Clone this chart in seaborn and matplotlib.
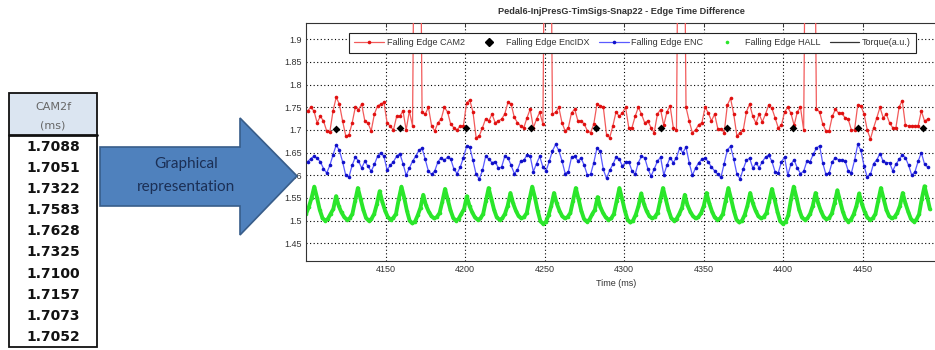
import numpy as np
import pandas as pd
import matplotlib
matplotlib.use("Agg")
import matplotlib.pyplot as plt
from matplotlib.lines import Line2D
from matplotlib.patches import Polygon, Rectangle
import seaborn as sns

# ---------------- data ----------------
table_header = ["CAM2f", "(ms)"]
table_values = ["1.7088", "1.7051", "1.7322", "1.7583", "1.7628",
                "1.7325", "1.7100", "1.7157", "1.7073", "1.7052"]
arrow_text = ["Graphical", "representation"]

title = "Pedal6-InjPresG-TimSigs-Snap22 - Edge Time Difference"
xlabel = "Time (ms)"
legend_labels = ["Falling Edge CAM2", "Falling Edge EncIDX", "Falling Edge ENC",
                 "Falling Edge HALL", "Torque(a.u.)"]
x_ticks = [4150, 4200, 4250, 4300, 4350, 4400, 4450]
y_ticks = [1.45, 1.5, 1.55, 1.6, 1.65, 1.7, 1.75, 1.8, 1.85, 1.9]
y_ticklabels = ["1.45", "1.5", "1.55", "1.6", "1.65", "1.7", "1.75", "1.8", "1.85", "1.9"]

# sample time grid of CAM2 / ENC (ms)
edge_t0, edge_dt = 4101.0, 2.0
cam2 = [
    1.742, 1.750, 1.742, 1.716, 1.730, 1.720, 1.698, 1.696, 1.742, 1.772,
    1.757, 1.720, 1.687, 1.689, 1.715, 1.750, 1.745, 1.757, 1.720, 1.715,
    1.698, 1.735, 1.753, 1.757, 1.761, 1.716, 1.708, 1.700, 1.730, 1.730,
    1.742, 1.700, 1.742, 1.709, 2.600, 2.600, 1.739, 1.735, 1.750, 1.709,
    1.698, 1.716, 1.724, 1.750, 1.740, 1.713, 1.705, 1.700, 1.709, 1.709,
    1.760, 1.766, 1.740, 1.683, 1.687, 1.705, 1.725, 1.720, 1.735, 1.716,
    1.720, 1.724, 1.735, 1.761, 1.757, 1.728, 1.716, 1.709, 1.705, 1.727,
    1.746, 1.705, 1.724, 1.739, 1.713, 2.600, 2.600, 1.735, 1.739, 1.750,
    1.716, 1.698, 1.705, 1.738, 1.746, 1.720, 1.720, 1.713, 1.698, 1.694,
    1.713, 1.757, 1.753, 1.750, 1.690, 1.683, 1.709, 1.740, 1.730, 1.738,
    1.750, 1.705, 1.705, 1.730, 1.750, 1.735, 1.716, 1.720, 1.705, 1.694,
    1.735, 1.745, 1.710, 1.740, 1.753, 1.705, 1.700, 2.600, 2.600, 1.750,
    1.720, 1.694, 1.700, 1.712, 1.716, 1.750, 1.738, 1.720, 1.735, 1.703,
    1.703, 1.694, 1.755, 1.770, 1.735, 1.687, 1.694, 1.700, 1.740, 1.757,
    1.730, 1.715, 1.735, 1.718, 1.735, 1.755, 1.748, 1.727, 1.705, 1.710,
    1.740, 1.750, 1.737, 1.710, 1.740, 1.750, 1.700, 2.600, 2.600, 2.600,
    1.746, 1.740, 1.713, 1.698, 1.698, 1.730, 1.746, 1.737, 1.737, 1.727,
    1.724, 1.700, 1.700, 1.755, 1.753, 1.735, 1.700, 1.680, 1.705, 1.727,
    1.750, 1.727, 1.735, 1.716, 1.705, 1.705, 1.750, 1.765, 1.710, 1.709,
    1.709, 1.709, 1.709, 1.742, 1.720, 1.724,
]
enc = [
    1.630, 1.637, 1.642, 1.638, 1.630, 1.615, 1.605, 1.622, 1.645, 1.667,
    1.655, 1.630, 1.600, 1.596, 1.622, 1.640, 1.632, 1.616, 1.631, 1.620,
    1.609, 1.624, 1.642, 1.650, 1.642, 1.612, 1.622, 1.630, 1.642, 1.648,
    1.626, 1.600, 1.616, 1.631, 1.642, 1.655, 1.660, 1.635, 1.609, 1.602,
    1.610, 1.630, 1.639, 1.633, 1.640, 1.636, 1.614, 1.604, 1.618, 1.639,
    1.664, 1.662, 1.633, 1.602, 1.592, 1.611, 1.642, 1.636, 1.628, 1.630,
    1.616, 1.618, 1.642, 1.639, 1.622, 1.604, 1.612, 1.631, 1.633, 1.645,
    1.642, 1.608, 1.626, 1.642, 1.618, 1.610, 1.631, 1.654, 1.668, 1.655,
    1.632, 1.604, 1.608, 1.640, 1.642, 1.632, 1.638, 1.622, 1.600, 1.602,
    1.628, 1.660, 1.653, 1.613, 1.593, 1.611, 1.624, 1.640, 1.636, 1.620,
    1.630, 1.630, 1.610, 1.602, 1.628, 1.642, 1.639, 1.615, 1.598, 1.614,
    1.631, 1.640, 1.601, 1.622, 1.639, 1.628, 1.639, 1.660, 1.650, 1.662,
    1.628, 1.600, 1.616, 1.628, 1.635, 1.638, 1.630, 1.618, 1.610, 1.602,
    1.596, 1.626, 1.656, 1.664, 1.636, 1.603, 1.592, 1.614, 1.633, 1.638,
    1.616, 1.627, 1.617, 1.630, 1.640, 1.645, 1.631, 1.608, 1.605, 1.630,
    1.640, 1.600, 1.625, 1.634, 1.616, 1.604, 1.609, 1.631, 1.630, 1.646,
    1.660, 1.665, 1.627, 1.602, 1.605, 1.630, 1.639, 1.634, 1.633, 1.632,
    1.610, 1.605, 1.633, 1.668, 1.655, 1.620, 1.596, 1.602, 1.626, 1.634,
    1.648, 1.631, 1.628, 1.628, 1.610, 1.624, 1.635, 1.645, 1.639, 1.622,
    1.600, 1.608, 1.631, 1.650, 1.625, 1.618,
]
# HALL sample time grid (ms)
hall_t0, hall_dt = 4100.06, 1.7134
hall = [
    1.515, 1.530, 1.550,
    1.575, 1.551, 1.524, 1.506, 1.500, 1.504, 1.515, 1.526,
    1.554, 1.532, 1.518, 1.508, 1.502, 1.505, 1.515, 1.544,
    1.572, 1.548, 1.524, 1.506, 1.500, 1.504, 1.515, 1.537,
    1.565, 1.541, 1.522, 1.508, 1.502, 1.506, 1.515, 1.547,
    1.575, 1.551, 1.522, 1.500, 1.494, 1.498, 1.512, 1.529,
    1.557, 1.534, 1.520, 1.510, 1.505, 1.508, 1.517, 1.542,
    1.570, 1.546, 1.523, 1.506, 1.500, 1.504, 1.515, 1.526,
    1.554, 1.532, 1.518, 1.507, 1.502, 1.505, 1.515, 1.544,
    1.572, 1.548, 1.524, 1.507, 1.502, 1.505, 1.515, 1.533,
    1.561, 1.538, 1.522, 1.510, 1.505, 1.508, 1.517, 1.547,
    1.575, 1.551, 1.522, 1.499, 1.493, 1.497, 1.512, 1.533,
    1.561, 1.538, 1.522, 1.510, 1.505, 1.508, 1.517, 1.544,
    1.572, 1.548, 1.522, 1.504, 1.498, 1.502, 1.514, 1.524,
    1.552, 1.530, 1.517, 1.507, 1.502, 1.505, 1.515, 1.544,
    1.572, 1.548, 1.522, 1.502, 1.496, 1.500, 1.513, 1.532,
    1.560, 1.537, 1.521, 1.510, 1.505, 1.508, 1.517, 1.544,
    1.572, 1.548, 1.524, 1.506, 1.500, 1.504, 1.515, 1.529,
    1.557, 1.534, 1.520, 1.510, 1.505, 1.508, 1.517, 1.533,
    1.561, 1.538, 1.520, 1.507, 1.502, 1.505, 1.515, 1.544,
    1.572, 1.548, 1.522, 1.502, 1.496, 1.500, 1.513, 1.533,
    1.561, 1.538, 1.522, 1.510, 1.505, 1.508, 1.517, 1.542,
    1.570, 1.546, 1.520, 1.499, 1.493, 1.497, 1.512, 1.547,
    1.575, 1.551, 1.524, 1.507, 1.502, 1.505, 1.515, 1.533,
    1.561, 1.538, 1.521, 1.508, 1.503, 1.506, 1.516, 1.539,
    1.567, 1.543, 1.520, 1.504, 1.498, 1.502, 1.514, 1.532,
    1.560, 1.537, 1.520, 1.507, 1.502, 1.505, 1.515, 1.544,
    1.572, 1.548, 1.524, 1.510, 1.505, 1.508, 1.517, 1.533,
    1.561, 1.538, 1.520, 1.504, 1.498, 1.502, 1.514, 1.548,
    1.576, 1.552, 1.525,
]
encidx_t = [4118.6, 4159.4, 4200.6, 4241.8, 4282.7, 4323.4, 4364.6, 4406.0, 4447.4, 4487.8]
encidx_v = [1.703, 1.705, 1.705, 1.705, 1.705, 1.705, 1.705, 1.705, 1.705, 1.705]

# ---------------- tables ----------------
edge_time = edge_t0 + edge_dt * np.arange(len(cam2))
df_edge = pd.DataFrame({"t": edge_time, "cam2": cam2, "enc": enc})
df_hall = pd.DataFrame({"t": hall_t0 + hall_dt * np.arange(len(hall)), "hall": hall})
df_idx = pd.DataFrame({"t": encidx_t, "v": encidx_v})

sns.set_theme(style="white")
plt.rcParams["font.family"] = ["Liberation Sans", "DejaVu Sans"]

fig = plt.figure(figsize=(9.35, 3.5), dpi=100)
fig.patch.set_facecolor("white")
W, H = 935.0, 350.0
ax = fig.add_axes([306 / W, (H - 261) / H, 636 / W, 238 / H])

red_line, red_mark = "#f25a5a", "#e01010"
blue_line, blue_mark = "#5a5aff", "#1010c8"
green = "#2ae62a"

sns.lineplot(data=df_hall, x="t", y="hall", ax=ax, color=green, lw=2.8,
             marker="o", markersize=2.6, markeredgewidth=0, sort=False, zorder=2)
sns.lineplot(data=df_edge, x="t", y="enc", ax=ax, color=blue_line, lw=0.9,
             marker="o", markersize=2.6, markerfacecolor=blue_mark,
             markeredgewidth=0, sort=False, zorder=3)
sns.lineplot(data=df_edge, x="t", y="cam2", ax=ax, color=red_line, lw=0.9,
             marker="o", markersize=2.6, markerfacecolor=red_mark,
             markeredgewidth=0, sort=False, zorder=3)
sns.scatterplot(data=df_idx, x="t", y="v", ax=ax, color="black", marker="D",
                s=16, linewidth=0, zorder=4)

ax.set_xlim(4100, 4500)
ax.set_ylim(1.411, 1.936)
ax.set_xticks(x_ticks)
ax.set_xticklabels([str(v) for v in x_ticks])
ax.set_yticks(y_ticks)
ax.set_yticklabels(y_ticklabels)
ax.set_xlabel("")
ax.set_ylabel("")
ax.tick_params(direction="in", length=3, width=0.7, top=True, right=True,
               labelsize=6.5, labelcolor="#333333", pad=3, colors="#333333")
ax.grid(True, color="black", linestyle=(0, (1, 2.2)), linewidth=0.8)
for s in ax.spines.values():
    s.set_color("#333333")
    s.set_linewidth(0.8)

handles = [
    Line2D([], [], color=red_line, lw=0.9, marker="o", markersize=2.6,
           markerfacecolor=red_mark, markeredgewidth=0),
    Line2D([], [], color="black", lw=0, marker="D", markersize=4),
    Line2D([], [], color=blue_line, lw=0.9, marker="o", markersize=2.6,
           markerfacecolor=blue_mark, markeredgewidth=0),
    Line2D([], [], color=green, lw=0, marker="o", markersize=2.6, markeredgewidth=0),
    Line2D([], [], color="#333333", lw=0.9),
]
leg = ax.legend(handles, legend_labels, ncol=5, loc="upper left",
                bbox_to_anchor=(349 / W, (H - 33) / H), bbox_transform=fig.transFigure,
                fontsize=6.5, frameon=True, fancybox=False, framealpha=1,
                edgecolor="#222222", handlelength=3.3, handletextpad=0.3,
                columnspacing=1.0, borderpad=0.6, borderaxespad=0)
leg.get_frame().set_linewidth(0.8)
for txt in leg.get_texts():
    txt.set_color("#333333")

fig.text(621 / W, 1 - 12 / H, title, ha="center", va="center",
         fontsize=6.6, fontweight="bold", color="#333333")
fig.text(616 / W, 1 - 283 / H, xlabel, ha="center", va="center",
         fontsize=6.5, color="#333333")

# ---------------- overlay: table and arrow ----------------
ov = fig.add_axes([0, 0, 1, 1], zorder=10)
ov.set_xlim(0, W)
ov.set_ylim(H, 0)
ov.axis("off")
ov.patch.set_alpha(0)

ov.add_patch(Rectangle((9, 93), 88, 42, facecolor="#dbe5f1", edgecolor="none"))
ov.add_patch(Rectangle((9, 93), 88, 254, facecolor="none", edgecolor="#111111", lw=1.3))
ov.plot([9, 97], [135, 135], color="#111111", lw=2.0)
ov.text(53, 107, table_header[0], ha="center", va="center", fontsize=8,
        color="#666666", family="DejaVu Sans")
ov.text(53, 125, table_header[1], ha="center", va="center", fontsize=8,
        color="#666666", family="DejaVu Sans")
for i, val in enumerate(table_values):
    ov.text(53, 147 + i * 21.1, val, ha="center", va="center", fontsize=10,
            fontweight="bold", color="#111111", family="DejaVu Sans")

arrow = Polygon([(100, 147), (240, 147), (240, 118), (297, 176),
                 (240, 235), (240, 206), (100, 206)], closed=True,
                facecolor="#4f81bd", edgecolor="#385d8a", lw=1.2)
ov.add_patch(arrow)
ov.text(186, 164, arrow_text[0], ha="center", va="center", fontsize=11,
        color="#1b2f55", family="Lato")
ov.text(186, 187, arrow_text[1], ha="center", va="center", fontsize=11,
        color="#1b2f55", family="Lato")

fig.savefig("out.png", dpi=100, facecolor="white")
